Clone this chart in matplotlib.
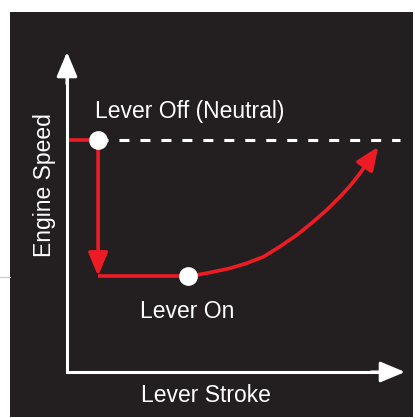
import numpy as np
import matplotlib
matplotlib.use('Agg')
import matplotlib.pyplot as plt
from matplotlib.patches import Rectangle
from matplotlib.lines import Line2D

plt.rcParams['font.family'] = ['Liberation Sans', 'DejaVu Sans']
plt.rcParams['lines.scale_dashes'] = False

## conceptual data (lever stroke 0-10, engine speed 0-10)
idle_speed = 7.25        # lever off (neutral)
low_speed = 3.0          # speed after lever goes on
off_stroke = [0.05, 0.92]
on_stroke = [0.92, 3.58]
curve_stroke = [3.58, 3.93, 4.33, 4.82, 5.32, 5.81, 6.30, 6.80, 7.29, 7.68,
                8.08, 8.37, 8.67, 9.21]
curve_speed = [3.0, 3.05, 3.13, 3.24, 3.40, 3.60, 3.92, 4.28, 4.70, 5.06,
               5.48, 5.81, 6.21, 7.04]
dash_end = 9.85

labels = {'off': 'Lever Off (Neutral)', 'on': 'Lever On',
          'x': 'Lever Stroke', 'y': 'Engine Speed'}

RED = '#ed1c24'
BG = '#231f20'
W, H = 415, 418

fig = plt.figure(figsize=(W/100, H/100), dpi=100)
fig.patch.set_facecolor('white')
fig.add_artist(Rectangle((10/W, 1-417/H), 403/W, 405/H, transform=fig.transFigure,
                         facecolor=BG, edgecolor='none', zorder=0))
fig.add_artist(Line2D([0, 10/W], [1-277/H, 1-277/H], transform=fig.transFigure,
                      color='#c8c8c8', lw=0.8))

ax = fig.add_axes([67/W, 1-372/H, 338/W, 320/H])
ax.set_xlim(0, 10)
ax.set_ylim(0, 10)
ax.axis('off')
ax.patch.set_alpha(0)

## axes with arrows
ax.plot([0, 0, 9.5], [9.5, 0, 0], color='white', lw=2.2,
        solid_joinstyle='miter', clip_on=False, zorder=2)
arrow_w = dict(arrowstyle='-|>,head_length=1.0,head_width=0.42', color='white',
               lw=2.2, mutation_scale=15, shrinkA=0, shrinkB=0)
ax.annotate('', xy=(10, 0), xytext=(9, 0), arrowprops=arrow_w, annotation_clip=False)
ax.annotate('', xy=(0, 10), xytext=(0, 9), arrowprops=arrow_w, annotation_clip=False)

## dashed idle line
ax.plot([off_stroke[1], dash_end], [idle_speed, idle_speed], color='white', lw=2.2,
        dashes=(7.2, 7.9), zorder=2, clip_on=False)

## red path
ax.plot(off_stroke, [idle_speed]*2, color=RED, lw=2.6, zorder=3, solid_capstyle='butt')
arrow_r = dict(arrowstyle='-|>,head_length=1.0,head_width=0.42', color=RED,
               lw=2.6, mutation_scale=14, shrinkA=0, shrinkB=0)
ax.annotate('', xy=(on_stroke[0], low_speed), xytext=(off_stroke[1], idle_speed),
            arrowprops=arrow_r, zorder=3)
ax.plot(on_stroke, [low_speed]*2, color=RED, lw=2.6, zorder=3, solid_capstyle='butt')
ax.plot(curve_stroke[:-1], curve_speed[:-1], color=RED, lw=2.6, zorder=3,
        solid_capstyle='butt', solid_joinstyle='round')
ax.annotate('', xy=(curve_stroke[-1], curve_speed[-1]),
            xytext=(curve_stroke[-2], curve_speed[-2]), arrowprops=arrow_r, zorder=3)

## points
ax.plot([off_stroke[1], on_stroke[1]], [idle_speed, low_speed], 'o', color='white',
        ms=13.5, mec='none', zorder=4)

## text
fs = 16.5
ax.text(3.64, 7.94, labels['off'], color='white', fontsize=fs, ha='center', va='baseline')
ax.text(3.57, 1.69, labels['on'], color='white', fontsize=fs, ha='center', va='baseline')
ax.text(4.10, -0.94, labels['x'], color='white', fontsize=fs, ha='center', va='baseline',
        clip_on=False)
ax.text(-0.47, 5.84, labels['y'], color='white', fontsize=fs, ha='center', va='baseline',
        rotation=90, rotation_mode='anchor', clip_on=False)

fig.savefig('out.png', dpi=100, facecolor=fig.get_facecolor())
